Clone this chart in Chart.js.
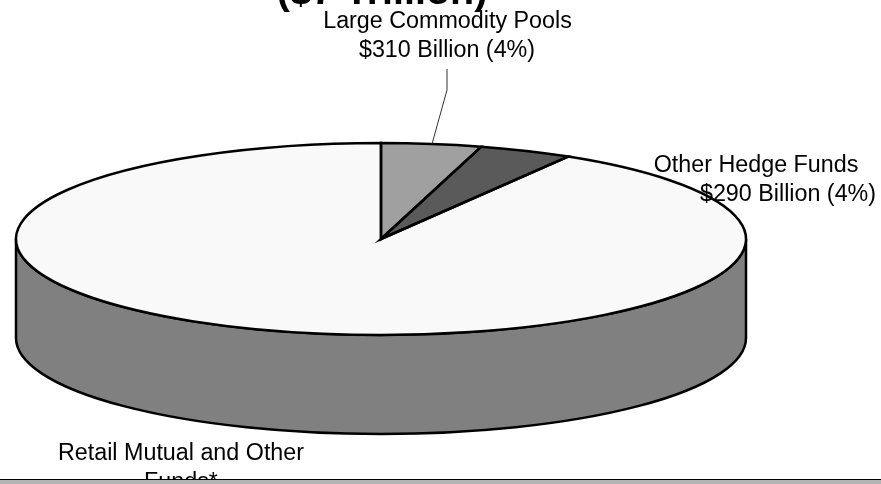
<!DOCTYPE html>
<html><head><meta charset="utf-8">
<style>html,body{margin:0;padding:0;background:#fff;overflow:hidden}#w{position:relative;width:881px;height:484px}canvas{display:block}</style>
<script src="https://cdn.jsdelivr.net/npm/chart.js@4/dist/chart.umd.min.js"></script>
</head><body><div id="w"><canvas id="c" width="881" height="484"></canvas></div>
<script>
const categories = ["Large Commodity Pools", "Other Hedge Funds", "Retail Mutual and Other Funds*"];
const billions = [310, 290, 6400];
const sliceColors = ["#a0a0a0", "#5a5a5a", "#f9f9f9"];
const titleText = "($7 Trillion)";
const labelLines = [
  {t:"Large Commodity Pools", x:447.5, y:28},
  {t:"$310 Billion (4%)", x:447, y:57},
  {t:"Other Hedge Funds", x:756, y:172},
  {t:"$290 Billion (4%)", x:788, y:201},
  {t:"Retail Mutual and Other", x:181, y:460},
  {t:"Funds*", x:181, y:489}
];
const RX = 365, RY = 96, DEPTH = 99, WALL = "#808080";

const pie3d = {
  id:"pie3d",
  beforeDatasetsDraw(chart){
    const a = chart.getDatasetMeta(0).data[0], ctx = chart.ctx;
    ctx.save();
    ctx.beginPath();
    ctx.ellipse(a.x, a.y, RX, RY, 0, Math.PI, 0, true);
    ctx.lineTo(a.x+RX, a.y+DEPTH);
    ctx.ellipse(a.x, a.y+DEPTH, RX, RY, 0, 0, Math.PI, false);
    ctx.closePath();
    ctx.fillStyle = WALL; ctx.fill();
    ctx.lineWidth = 2.5; ctx.strokeStyle = "#000"; ctx.stroke();
    ctx.restore();
    ctx.save();
    ctx.translate(a.x, a.y);
    ctx.scale(RX/a.outerRadius, RY/a.outerRadius);
    ctx.translate(-a.x, -a.y);
  },
  afterDatasetsDraw(chart){
    const ctx = chart.ctx, arcs = chart.getDatasetMeta(0).data;
    ctx.restore();
    ctx.save();
    ctx.lineWidth = 2.5; ctx.strokeStyle = "#000"; ctx.lineJoin = "miter";
    arcs.forEach(a=>{
      ctx.beginPath();
      ctx.moveTo(a.x, a.y);
      ctx.ellipse(a.x, a.y, RX, RY, 0, a.startAngle, a.endAngle, false);
      ctx.closePath();
      ctx.stroke();
    });
    ctx.lineWidth = 1; ctx.strokeStyle = "#333";
    ctx.beginPath(); ctx.moveTo(447,69); ctx.lineTo(447,90); ctx.lineTo(432,144); ctx.stroke();
    ctx.fillStyle = "#000"; ctx.textAlign = "center"; ctx.textBaseline = "alphabetic";
    ctx.font = "23.3px 'Liberation Sans'";
    labelLines.forEach(l=>ctx.fillText(l.t, l.x, l.y));
    ctx.font = "bold 39.5px 'Liberation Sans'";
    ctx.fillText(titleText, 382, 3.5);
    ctx.fillStyle = "#b4b4b4"; ctx.fillRect(0,480,881,4);
    ctx.fillStyle = "#000"; ctx.fillRect(0,479,881,1);
    ctx.restore();
  }
};

new Chart(document.getElementById("c"), {
  type:"pie",
  data:{labels:categories, datasets:[{data:billions, backgroundColor:sliceColors, borderWidth:0}]},
  options:{
    responsive:false, animation:false,
    layout:{padding:{left:0,top:0,right:119,bottom:6}},
    plugins:{legend:{display:false},tooltip:{enabled:false},title:{display:false}}
  },
  plugins:[pie3d]
});
</script></body></html>
